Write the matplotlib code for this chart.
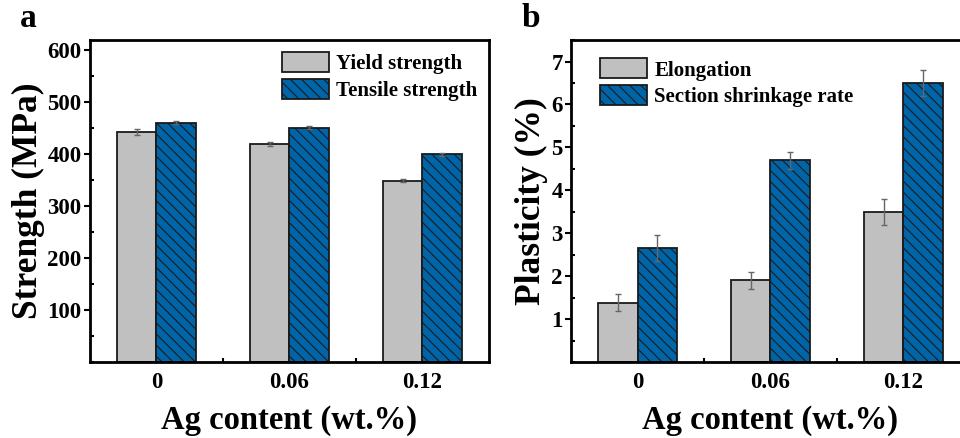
import numpy as np
import matplotlib.pyplot as plt
from matplotlib.ticker import MultipleLocator

# Dados
categorias = ['0', '0.06', '0.12']
yield_strength = [443, 420, 349]
yield_err = [5, 4, 3]
tensile_strength = [461, 451, 400]
tensile_err = [3, 3, 3]

elongation = [1.38, 1.9, 3.5]
elongation_err = [0.2, 0.2, 0.3]
shrinkage = [2.65, 4.7, 6.5]
shrinkage_err = [0.3, 0.2, 0.3]

cinza = '#c0c0c0'
azul = '#0065a8'

plt.rcParams['font.family'] = ['Liberation Serif', 'DejaVu Serif']
plt.rcParams['font.weight'] = 'bold'
plt.rcParams['hatch.linewidth'] = 0.8
plt.rcParams['hatch.color'] = '#1a1a1a'

fig = plt.figure(figsize=(9.6, 4.38), dpi=100)
ax1 = fig.add_axes([0.09375, 0.1735, 0.4156, 0.735])
ax2 = fig.add_axes([0.5948, 0.1735, 0.4156, 0.735])

x = np.arange(1, len(categorias) + 1)
w = 0.3


def barras(ax, v1, e1, v2, e2, lab1, lab2):
    ax.bar(x - w / 2, v1, w, color=cinza, edgecolor='#1a1a1a', linewidth=1.3,
           label=lab1, zorder=2)
    ax.bar(x + w / 2, v2, w, color=azul, edgecolor='#1a1a1a', linewidth=1.3,
           hatch='\\\\\\', label=lab2, zorder=2)
    ax.errorbar(x - w / 2, v1, yerr=e1, fmt='none', ecolor='#666666',
                elinewidth=1, capsize=2.5, capthick=1, zorder=3)
    ax.errorbar(x + w / 2, v2, yerr=e2, fmt='none', ecolor='#666666',
                elinewidth=1, capsize=2.5, capthick=1, zorder=3)
    ax.set_xlim(0.5, 3.5)
    ax.set_xticks(x)
    ax.set_xticklabels(categorias)
    ax.set_xticks([1.5, 2.5], minor=True)
    ax.tick_params(axis='x', which='major', length=0, pad=7, labelsize=16.5)
    ax.tick_params(axis='x', which='minor', direction='in', length=3, width=1.5)
    ax.tick_params(axis='y', which='major', direction='out', length=4, width=1.5,
                   labelsize=16.5, pad=2)
    ax.tick_params(axis='y', which='minor', direction='in', length=3, width=1.5)
    for s in ax.spines.values():
        s.set_linewidth(2)
    ax.set_xlabel('Ag content (wt.%)', fontsize=23.5, fontweight='bold', labelpad=9)


leg_kw = dict(frameon=False, fontsize=15, handlelength=2.25, handleheight=1.1,
              labelspacing=0.2, handletextpad=0.35, borderpad=0,
              borderaxespad=0, loc='upper left')

barras(ax1, yield_strength, yield_err, tensile_strength, tensile_err,
       'Yield strength', 'Tensile strength')
ax1.set_ylim(0, 620)
ax1.set_yticks([100, 200, 300, 400, 500, 600])
ax1.yaxis.set_minor_locator(MultipleLocator(50))
ax1.set_ylabel('Strength (MPa)', fontsize=25.5, fontweight='bold', labelpad=2)
ax1.legend(bbox_to_anchor=(0.481, 0.962), **leg_kw)

barras(ax2, elongation, elongation_err, shrinkage, shrinkage_err,
       'Elongation', 'Section shrinkage rate')
ax2.set_ylim(0, 7.5)
ax2.set_yticks([1, 2, 3, 4, 5, 6, 7])
ax2.yaxis.set_minor_locator(MultipleLocator(0.5))
ax2.set_ylabel('Plasticity (%)', fontsize=25.5, fontweight='bold', labelpad=2)
ax2.legend(bbox_to_anchor=(0.073, 0.943), **leg_kw)

fig.text(0.021, 0.958, 'a', fontsize=24, fontweight='bold', va='center')
fig.text(0.543, 0.958, 'b', fontsize=24, fontweight='bold', va='center')

fig.savefig('out.png', dpi=100)
